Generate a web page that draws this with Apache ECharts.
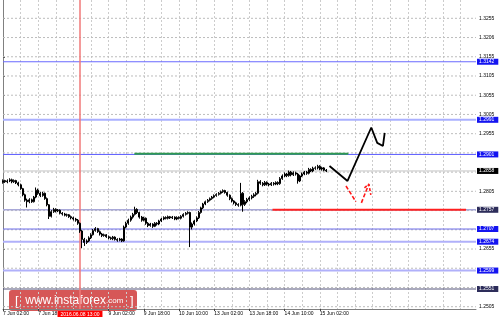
<!DOCTYPE html>
<html><head><meta charset="utf-8">
<script src="https://cdn.jsdelivr.net/npm/echarts@6/dist/echarts.min.js"></script>
<style>html,body{margin:0;padding:0;background:#fff}#c{width:500px;height:320px}</style>
</head><body><div id="c"></div>
<script>
// ---- data ----
const opens = [1.2828,1.2833,
1.2830,1.2832,1.2835,1.2830,1.2833,1.2827,1.2822,1.2812,1.2796,1.2782,
1.2778,1.2783,1.2778,1.2790,1.2808,1.2800,1.2794,1.2800,1.2786,1.2770,
1.2740,1.2752,1.2758,1.2754,1.2756,1.2748,1.2746,1.2743,1.2744,1.2739,
1.2736,1.2733,1.2730,1.2722,1.2702,1.2680,1.2672,1.2676,1.2684,1.2692,
1.2703,1.2708,1.2700,1.2694,1.2690,1.2692,1.2687,1.2684,1.2682,1.2686,
1.2680,1.2678,1.2681,1.2676,1.2712,1.2722,1.2730,1.2738,1.2745,1.2758,
1.2750,1.2738,1.2730,1.2735,1.2722,1.2716,1.2720,1.2714,1.2722,1.2720,
1.2728,1.2733,1.2737,1.2735,1.2739,1.2736,1.2738,1.2733,1.2737,1.2735,
1.2740,1.2745,1.2748,1.2750,1.2712,1.2720,1.2728,1.2736,1.2750,1.2762,
1.2772,1.2778,1.2782,1.2786,1.2790,1.2794,1.2797,1.2800,1.2804,1.2807,
1.2802,1.2795,1.2786,1.2780,1.2775,1.2771,1.2769,1.2800,1.2771,1.2778,
1.2784,1.2788,1.2792,1.2796,1.2800,1.2830,1.2826,1.2822,1.2828,1.2824,
1.2822,1.2826,1.2824,1.2828,1.2825,1.2838,1.2845,1.2850,1.2846,1.2855,
1.2848,1.2853,1.2850,1.2832,1.2845,1.2850,1.2855,1.2852,1.2862,1.2858,
1.2865,1.2866,1.2870,1.2863,1.2866,1.2860];
const closes = [1.2833,1.2830,
1.2832,1.2835,1.2830,1.2833,1.2827,1.2822,1.2812,1.2796,1.2782,1.2778,
1.2783,1.2778,1.2790,1.2808,1.2800,1.2794,1.2800,1.2786,1.2770,1.2740,
1.2752,1.2758,1.2754,1.2756,1.2748,1.2746,1.2743,1.2744,1.2739,1.2736,
1.2733,1.2730,1.2722,1.2702,1.2680,1.2672,1.2676,1.2684,1.2692,1.2703,
1.2708,1.2700,1.2694,1.2690,1.2692,1.2687,1.2684,1.2682,1.2686,1.2680,
1.2678,1.2681,1.2676,1.2712,1.2722,1.2730,1.2738,1.2745,1.2758,1.2750,
1.2738,1.2730,1.2735,1.2722,1.2716,1.2720,1.2714,1.2722,1.2720,1.2728,
1.2733,1.2737,1.2735,1.2739,1.2736,1.2738,1.2733,1.2737,1.2735,1.2740,
1.2745,1.2748,1.2750,1.2712,1.2720,1.2728,1.2736,1.2750,1.2762,1.2772,
1.2778,1.2782,1.2786,1.2790,1.2794,1.2797,1.2800,1.2804,1.2807,1.2802,
1.2795,1.2786,1.2780,1.2775,1.2771,1.2769,1.2800,1.2771,1.2778,1.2784,
1.2788,1.2792,1.2796,1.2800,1.2830,1.2826,1.2822,1.2828,1.2824,1.2822,
1.2826,1.2824,1.2828,1.2825,1.2838,1.2845,1.2850,1.2846,1.2855,1.2848,
1.2853,1.2850,1.2832,1.2845,1.2850,1.2855,1.2852,1.2862,1.2858,1.2865,
1.2866,1.2870,1.2863,1.2866,1.2860,1.2858];
const lows = [1.2825,1.2827,
1.2826,1.2829,1.2826,1.2827,1.2824,1.2818,1.2809,1.2792,1.2778,1.2763,
1.2774,1.2775,1.2776,1.2787,1.2796,1.2790,1.2791,1.2783,1.2766,1.2733,
1.2737,1.2749,1.2750,1.2751,1.2745,1.2742,1.2740,1.2739,1.2736,1.2732,
1.2729,1.2726,1.2718,1.2697,1.2657,1.2663,1.2668,1.2673,1.2681,1.2690,
1.2700,1.2697,1.2690,1.2686,1.2687,1.2684,1.2680,1.2679,1.2678,1.2677,
1.2674,1.2675,1.2673,1.2674,1.2709,1.2718,1.2726,1.2734,1.2742,1.2746,
1.2734,1.2726,1.2727,1.2718,1.2712,1.2713,1.2710,1.2712,1.2716,1.2717,
1.2725,1.2730,1.2732,1.2732,1.2733,1.2733,1.2730,1.2730,1.2732,1.2732,
1.2737,1.2742,1.2745,1.2660,1.2706,1.2716,1.2725,1.2733,1.2747,1.2759,
1.2769,1.2775,1.2779,1.2783,1.2787,1.2791,1.2794,1.2797,1.2801,1.2799,
1.2791,1.2782,1.2776,1.2771,1.2767,1.2765,1.2766,1.2752,1.2767,1.2774,
1.2780,1.2784,1.2788,1.2792,1.2797,1.2822,1.2818,1.2819,1.2820,1.2818,
1.2819,1.2820,1.2821,1.2821,1.2822,1.2835,1.2842,1.2842,1.2843,1.2844,
1.2845,1.2846,1.2825,1.2829,1.2842,1.2847,1.2848,1.2849,1.2855,1.2855,
1.2861,1.2862,1.2860,1.2859,1.2857,1.2855];
const highs = [1.2836,1.2835,
1.2836,1.2839,1.2838,1.2836,1.2835,1.2830,1.2825,1.2814,1.2799,1.2786,
1.2787,1.2786,1.2793,1.2815,1.2812,1.2803,1.2804,1.2802,1.2789,1.2772,
1.2756,1.2762,1.2761,1.2759,1.2758,1.2751,1.2749,1.2747,1.2746,1.2742,
1.2739,1.2736,1.2733,1.2724,1.2705,1.2684,1.2680,1.2688,1.2696,1.2707,
1.2712,1.2710,1.2703,1.2697,1.2695,1.2694,1.2690,1.2687,1.2689,1.2688,
1.2683,1.2684,1.2683,1.2716,1.2726,1.2734,1.2742,1.2749,1.2765,1.2761,
1.2752,1.2741,1.2739,1.2737,1.2725,1.2723,1.2722,1.2725,1.2725,1.2731,
1.2736,1.2740,1.2740,1.2742,1.2741,1.2741,1.2740,1.2740,1.2740,1.2743,
1.2748,1.2751,1.2753,1.2752,1.2724,1.2731,1.2740,1.2754,1.2765,1.2775,
1.2781,1.2785,1.2789,1.2793,1.2797,1.2800,1.2803,1.2807,1.2810,1.2809,
1.2804,1.2797,1.2789,1.2782,1.2778,1.2774,1.2827,1.2803,1.2782,1.2788,
1.2792,1.2796,1.2800,1.2803,1.2835,1.2834,1.2829,1.2832,1.2831,1.2827,
1.2829,1.2829,1.2831,1.2831,1.2842,1.2849,1.2854,1.2853,1.2859,1.2858,
1.2857,1.2856,1.2853,1.2848,1.2854,1.2858,1.2858,1.2866,1.2865,1.2869,
1.2870,1.2874,1.2873,1.2869,1.2868,1.2863];

const gridPrices = [1.2505,1.2555,1.2605,1.2655,1.2705,1.2755,1.2805,1.2855,1.2905,1.2955,1.3005,1.3055,1.3105,1.3155,1.3205,1.3255];
const axisTickValues = [1.2505,1.2655,1.2805,1.2955,1.3005,1.3055,1.3105,1.3155,1.3206,1.3255];
const levelPrices = [1.3142,1.2991,1.2901,1.2757,1.2707,1.2674,1.2599,1.2551];
const currentPrice = 1.2858;
const markerTime = '8 Jun 13:00';
const markerText = '2016.06.08 13:00';
// drawn objects, in (bar index, price)
const greenSegX = [59.7,157], greenSegY = [1.2903,1.2903];
const redSegX = [122.5,210.5], redSegY = [1.2757,1.2757];
const zigzagX = [148.4,156.6,167.4,170.1,172.7,173.5];
const zigzagY = [1.2871,1.2832,1.2971,1.2931,1.2923,1.2957];
const fcast1X = [155.9,160.4], fcast1Y = [1.2819,1.2778];
const fcast2X = [162.9,166.3], fcast2Y = [1.2775,1.2824];
const fcastHeadX = [164.3,166.3,167.2], fcastHeadY = [1.2814,1.2824,1.2796];

// ---- styles ----
const levelLineColors = ['#6a6aff','#aab0ff','#5a5aff','#a8a8d8','#6a6ae8','#b0b0fa','#b0b0fa','#55557a'];
const levelLineWidths = [1,2,1,1.5,1,2,2,1];
const levelBoxColors = ['#1414f0','#1414f0','#1414f0','#2d2d5a','#1414f0','#1414f0','#1414f0','#2d2d5a'];
const FONT = 'Liberation Sans';
const Y_MIN = 1.2499, Y_MAX = 1.33026;

// ---- categories (hourly bars, weekends skipped) ----
const N = 216;
const cats = [];
let t = Date.UTC(2016,5,7,2);
while (cats.length < N) {
  const d = new Date(t); const wd = d.getUTCDay();
  if (wd !== 0 && wd !== 6) cats.push(d.getUTCDate() + ' Jun ' + String(d.getUTCHours()).padStart(2,'0') + ':00');
  t += 3600000;
}
const markerIndex = cats.indexOf(markerTime);
const lastBar = closes.length - 1;
const labelShown = (i) => i % 16 === 0 && i <= lastBar && Math.abs(i - markerIndex) > 8;

const candleData = closes.map((c,k) => [opens[k], c, lows[k], highs[k]]);
const pairs = (xs, ys) => xs.map((x,k) => [x, ys[k]]);
const seg = (data, lineStyle, z, extra) => Object.assign({type:'line', xAxisIndex:1, data, symbol:'none', silent:true,
  z, lineStyle, emphasis:{disabled:true}}, extra || {});
const boxLabel = (txt, bg) => ({show:true, formatter:txt, distance:1, color:'#fff', fontSize:5, fontFamily:FONT,
  backgroundColor:bg, padding:[1,4,0,2], lineHeight:5});

const series = [];
gridPrices.forEach(p => series.push(seg([[0,p],[N-1,p]], {color:'#bdbdbd', width:1, type:[2,2]}, 1)));
levelPrices.forEach((p,k) => series.push(seg([[0,p],[N-1,p]],
  {color:levelLineColors[k], width:levelLineWidths[k]}, 2, {endLabel:boxLabel(p.toFixed(4), levelBoxColors[k])})));
series.push(seg([[0,currentPrice],[N-1,currentPrice]], {color:'#c4c4c4', width:1}, 2,
  {endLabel:boxLabel(currentPrice.toFixed(4), '#000000')}));
series.push(seg([[markerIndex,Y_MIN],[markerIndex,Y_MAX]], {color:'#f07878', width:1.5}, 2));
series.push(seg(pairs(greenSegX,greenSegY), {color:'#2f9a50', width:2}, 3));
series.push(seg(pairs(redSegX,redSegY), {color:'#ff2020', width:2}, 3));
series.push({type:'candlestick', xAxisIndex:0, data:candleData, z:5, barWidth:1.6, silent:true,
  itemStyle:{color:'#ffffff', color0:'#000000', borderColor:'#000000', borderColor0:'#000000', borderWidth:1}});
series.push(seg(pairs(zigzagX,zigzagY), {color:'#000', width:1.8}, 6));
series.push(seg(pairs(fcast1X,fcast1Y), {color:'#ff1a1a', width:1.6, type:[4,2]}, 6));
series.push(seg(pairs(fcast2X,fcast2Y), {color:'#ff1a1a', width:1.6, type:[4,2]}, 6));
series.push(seg(pairs(fcastHeadX,fcastHeadY), {color:'#ff1a1a', width:1.6, type:[3,2]}, 6));

const chart = echarts.init(document.getElementById('c'), null, {renderer:'canvas'});
chart.setOption({
  animation:false,
  backgroundColor:'#ffffff',
  grid:{left:-3, right:24, top:0, bottom:11},
  xAxis:[
    {type:'category', data:cats, boundaryGap:false,
     axisLine:{lineStyle:{color:'#808080'}},
     axisTick:{show:true, length:2, interval:labelShown, lineStyle:{color:'#404040'}},
     axisLabel:{interval:labelShown, align:'left', margin:2, fontSize:5, fontFamily:FONT, color:'#000'},
     splitLine:{show:true, interval:(i)=>i%8===0, lineStyle:{color:'#cccccc', type:[2,2], width:1}}},
    {type:'value', min:0, max:N-1, show:false},
    {type:'category', data:cats, boundaryGap:false, position:'bottom',
     axisLine:{show:false}, axisTick:{show:false}, splitLine:{show:false},
     axisLabel:{interval:(i)=>i===markerIndex, align:'center', margin:2, fontSize:5, fontFamily:FONT,
       formatter:()=>'{r|' + markerText + '}',
       rich:{r:{backgroundColor:'#ff0000', color:'#fff', fontSize:5, fontFamily:FONT, padding:[1,3,0,3], lineHeight:6}}}}
  ],
  yAxis:{type:'value', position:'right', min:Y_MIN, max:Y_MAX,
    axisLine:{show:true, lineStyle:{color:'#808080'}},
    axisTick:{show:true, length:2, customValues:axisTickValues, lineStyle:{color:'#404040'}},
    axisLabel:{customValues:axisTickValues, fontSize:5, fontFamily:FONT, color:'#000', margin:3,
      formatter:(v)=>v.toFixed(4)},
    splitLine:{show:false}},
  series,
  graphic:[{type:'group', left:9, top:290, z:100, children:[
    {type:'rect', shape:{x:0, y:0, width:128, height:21, r:3}, style:{fill:'rgba(205,50,50,0.82)'}},
    {type:'text', x:6, y:11, style:{text:'{b|[}  {w|www.instaforex}{c|.com}  {b|]}', verticalAlign:'middle',
      font:'12px "Liberation Sans"', fill:'#fff',
      rich:{b:{fontSize:13, fontFamily:FONT, fill:'#fff'}, w:{fontSize:12, fontFamily:FONT, fill:'#fff'}, c:{fontSize:8, fontFamily:FONT, fill:'#fff'}}}}
  ]}]
});
</script></body></html>
